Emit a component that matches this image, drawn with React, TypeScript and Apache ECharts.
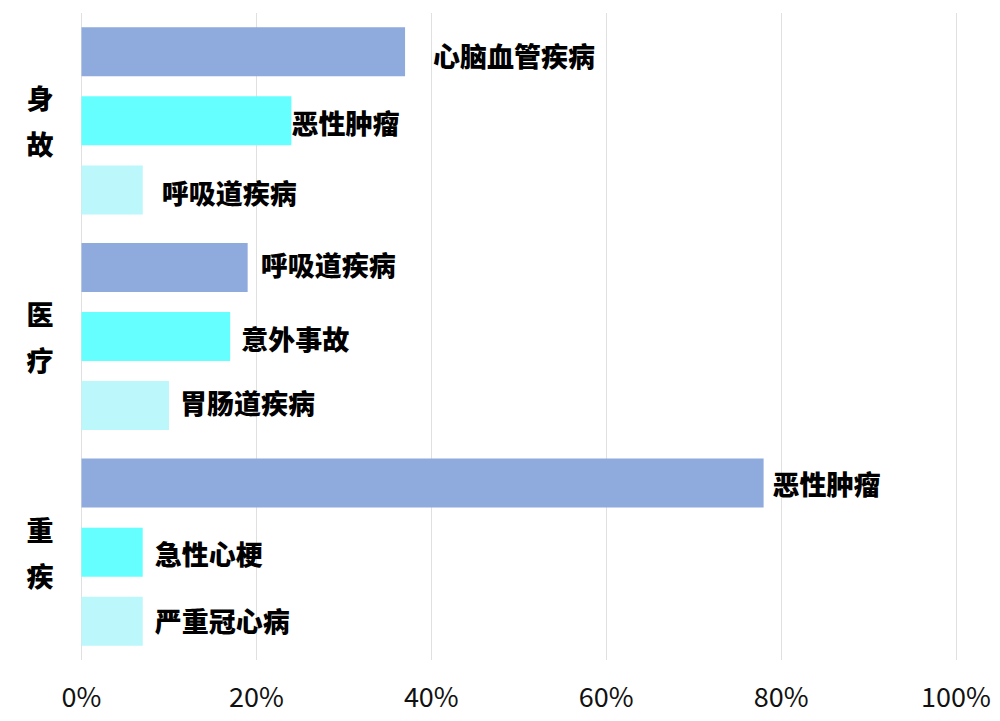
import React, { useEffect, useRef } from "react";
import * as echarts from "echarts";

const categories = ["身\n故", "医\n疗", "重\n疾"];
const seriesAValues = [37, 19, 78];
const seriesALabels = ["心脑血管疾病", "呼吸道疾病", "恶性肿瘤"];
const seriesBValues = [24, 17, 7];
const seriesBLabels = ["恶性肿瘤", "意外事故", "急性心梗"];
const seriesCValues = [7, 10, 7];
const seriesCLabels = ["呼吸道疾病", "胃肠道疾病", "严重冠心病"];
const labelDistA = [28, 13, 9];
const labelDistB = [0, 11, 12];
const labelDistC = [19, 11, 12];
const labelDyA = [4, -2.5, 0];
const labelDyB = [2, 2, 1];
const labelDyC = [3, -3.5, -1];
const colors = ["#8faadc", "#66ffff", "#bbf7fb"];

const FONT = "'Noto Sans CJK SC', 'Noto Sans', sans-serif";

function buildData(values: number[], labels: string[], dists: number[], dys: number[]) {
  return values.map((v, i) => ({
    value: v,
    label: { formatter: labels[i], distance: dists[i], offset: [0, dys[i]] },
  }));
}

export default function App() {
  const ref = useRef<HTMLDivElement>(null);
  useEffect(() => {
    if (!ref.current) return;
    const chart = echarts.init(ref.current, undefined, { renderer: "svg" });
    const labelStyle = {
      show: true,
      position: "right" as const,
      color: "#000",
      fontSize: 27,
      fontWeight: 900,
      fontFamily: FONT,
    };
    const mk = (
      name: string,
      values: number[],
      labels: string[],
      d: number[],
      dy: number[],
      color: string
    ) => ({
      name,
      type: "bar" as const,
      barWidth: 49,
      barGap: "41%",
      itemStyle: { color },
      label: labelStyle,
      data: buildData(values, labels, d, dy),
    });
    chart.setOption({
      animation: false,
      textStyle: { fontFamily: FONT },
      grid: { left: 81.5, right: 44, top: 13, bottom: 61, containLabel: false },
      xAxis: {
        type: "value",
        min: 0,
        max: 100,
        interval: 20,
        axisLine: { show: false },
        axisTick: { show: false },
        axisLabel: {
          formatter: "{value}%",
          color: "#111",
          fontSize: 27,
          fontFamily: FONT,
          margin: 22,
        },
        splitLine: { show: true, lineStyle: { color: "#e0e0e0", width: 1 } },
      },
      yAxis: {
        type: "category",
        inverse: true,
        data: categories,
        axisLine: { show: false },
        axisTick: { show: false },
        axisLabel: {
          color: "#000",
          fontSize: 27,
          fontWeight: 900,
          fontFamily: FONT,
          lineHeight: 46,
          margin: 28,
        },
        splitLine: { show: false },
      },
      series: [
        mk("A", seriesAValues, seriesALabels, labelDistA, labelDyA, colors[0]),
        mk("B", seriesBValues, seriesBLabels, labelDistB, labelDyB, colors[1]),
        mk("C", seriesCValues, seriesCLabels, labelDistC, labelDyC, colors[2]),
      ],
    });
    return () => chart.dispose();
  }, []);
  return (
    <div
      ref={ref}
      style={{ position: "fixed", left: 0, top: 0, width: 1000, height: 721, background: "#fff" }}
    />
  );
}
